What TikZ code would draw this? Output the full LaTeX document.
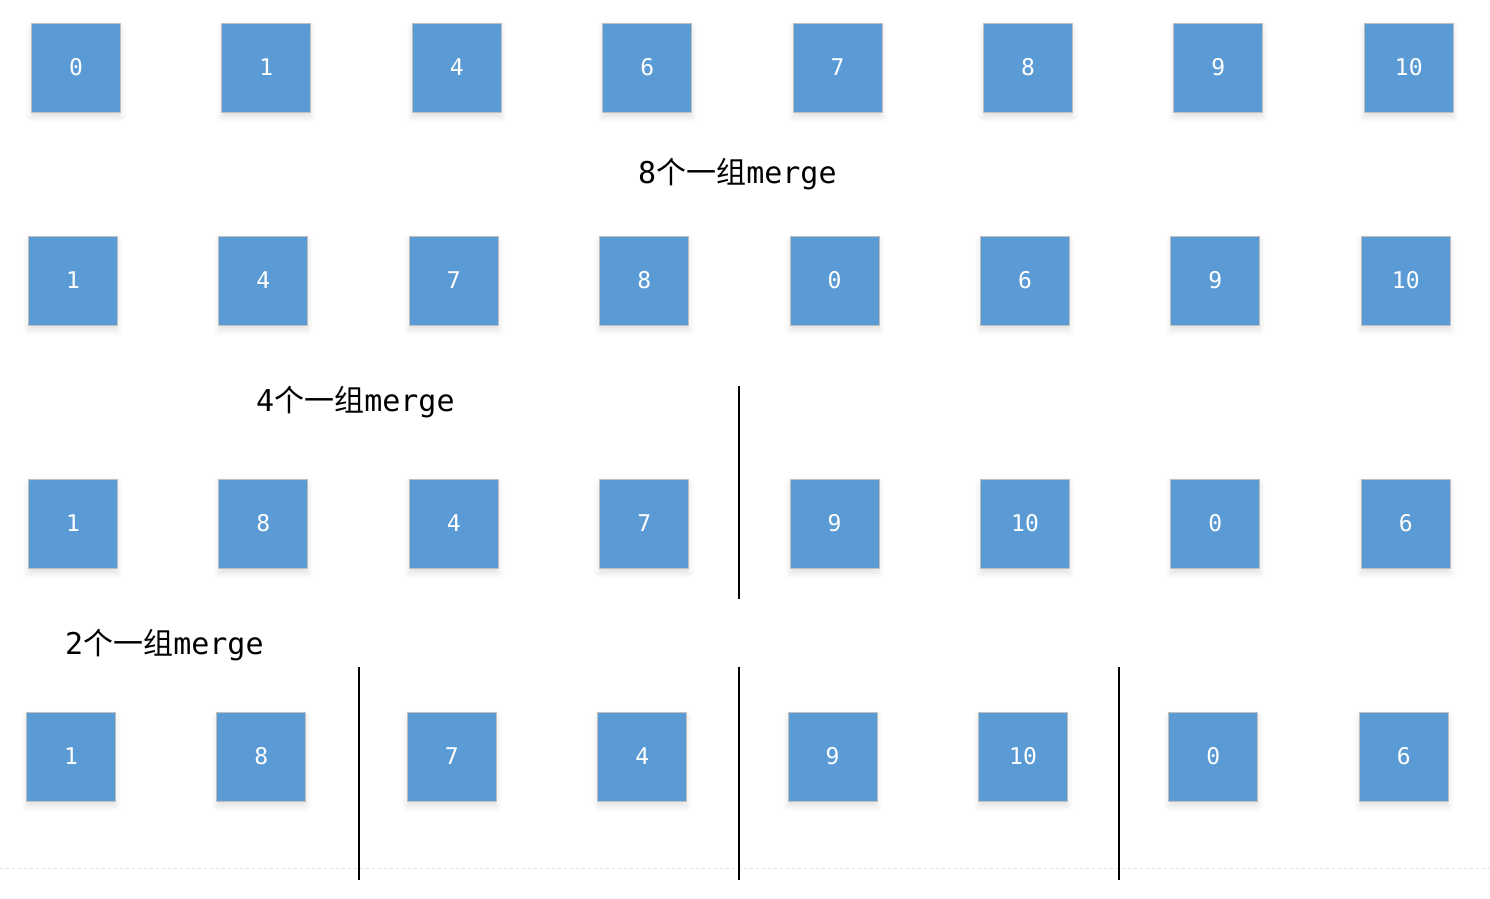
\documentclass[tikz,border=0pt]{standalone}
\usepackage{fontspec}
\setmonofont{DejaVu Sans Mono}
\newfontfamily\cjk{Noto Sans CJK SC}
\usetikzlibrary{shadows.blur}
\definecolor{boxblue}{HTML}{5B9BD5}
\definecolor{boxedge}{HTML}{BFBFBF}
\tikzset{
  cell/.style={draw=boxedge, line width=1pt, fill=boxblue, minimum width=89pt, minimum height=89pt, inner sep=0pt,
    text=white, font=\ttfamily\fontsize{23}{23}\selectfont,
    blur shadow={shadow xshift=0pt, shadow yshift=-5pt, shadow blur radius=6pt, shadow opacity=12}},
  lbl/.style={anchor=west, inner sep=0pt, font=\fontsize{30}{30}\selectfont},
  sep/.style={draw=black, line width=2pt},
}
\newcommand{\zh}[1]{{\cjk #1}}
\begin{document}
\begin{tikzpicture}[x=1pt,y=-1pt]
\useasboundingbox (0,0) rectangle (1490,898);
% row 1
\foreach \v [count=\i] in {0,1,4,6,7,8,9,10}{
  \pgfmathsetmacro\cx{76+(\i-1)*190.4}
  \node[cell] (a\i) at (\cx,67.5) {\v};
}
\node[lbl] (l8) at (638,174) {\ttfamily 8\zh{个一组}merge};
% row 2
\foreach \v [count=\i] in {1,4,7,8,0,6,9,10}{
  \pgfmathsetmacro\cx{73+(\i-1)*190.4}
  \node[cell] (b\i) at (\cx,280.5) {\v};
}
\node[lbl] (l4) at (256,402) {\ttfamily 4\zh{个一组}merge};
% row 3
\foreach \v [count=\i] in {1,8,4,7,9,10,0,6}{
  \pgfmathsetmacro\cx{73+(\i-1)*190.4}
  \node[cell] (c\i) at (\cx,523.5) {\v};
}
\coordinate (s1t) at (739,386);
\coordinate (s1b) at (739,599);
\draw[sep] (s1t) -- (s1b);
\node[lbl] (l2) at (65,645) {\ttfamily 2\zh{个一组}merge};
% row 4
\foreach \v [count=\i] in {1,8,7,4,9,10,0,6}{
  \pgfmathsetmacro\cx{71+(\i-1)*190.4}
  \node[cell] (d\i) at (\cx,756.5) {\v};
}
\coordinate (dl) at (0,868);
\coordinate (dr) at (1490,868);
\draw[gray!25, dashed, line width=0.8pt] (dl) -- (dr);
\foreach \x [count=\k] in {359,739,1119}{
  \coordinate (t\k) at (\x,667);
  \coordinate (b\k) at (\x,880);
  \draw[sep] (t\k) -- (b\k);
}
\end{tikzpicture}
\end{document}
